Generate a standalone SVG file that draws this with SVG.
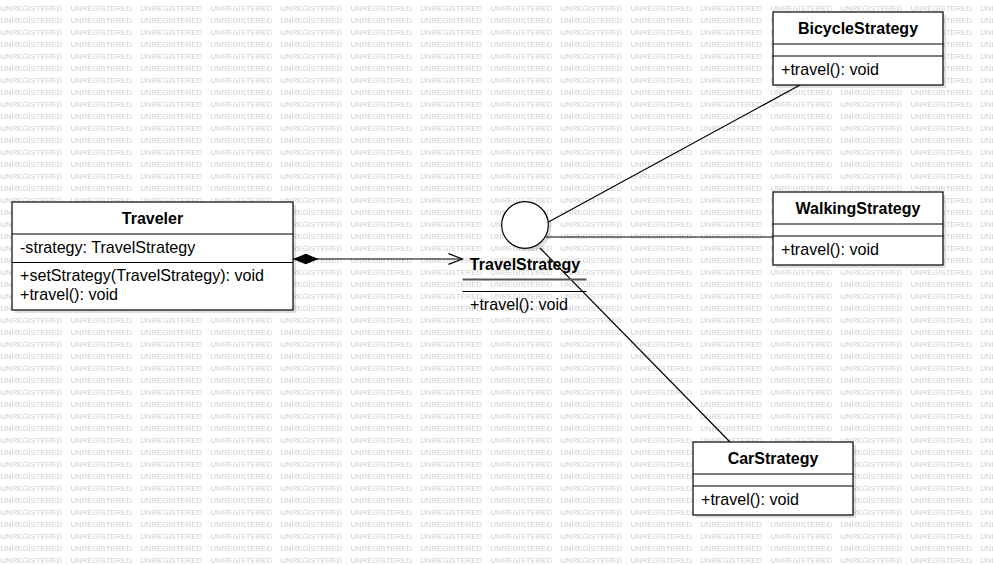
<svg xmlns="http://www.w3.org/2000/svg" width="993" height="565" viewBox="0 0 993 565">
<style>
.wm{font-family:"Liberation Sans",Arial,sans-serif;font-size:8px;fill:#cdcdcd}
.box{fill:#fff;stroke:#000;stroke-width:1.2}
.sh{fill:#000;fill-opacity:0.12}
.div{stroke:#000;stroke-width:1.2}
.t{font-family:"Liberation Sans",Arial,sans-serif;font-size:16px;font-weight:bold;fill:#000;text-anchor:middle}
.m{font-family:"Liberation Sans",Arial,sans-serif;font-size:16.1px;fill:#000}
.ln{stroke:#000;stroke-width:1.2;fill:none}
</style>
<defs>
<pattern id="wmp" x="0" y="0" width="70" height="12" patternUnits="userSpaceOnUse">
<text class="wm" x="0.5" y="11" textLength="61.5" lengthAdjust="spacingAndGlyphs">UNREGISTERED</text>
</pattern>
<marker id="diamond" markerWidth="27" markerHeight="12" refX="0" refY="6" orient="auto" markerUnits="userSpaceOnUse">
<path d="M0,6 L12.8,0.8 L25.6,6 L12.8,11.2 Z" fill="#000"/>
</marker>
<marker id="open" markerWidth="16" markerHeight="12" refX="15" refY="6" orient="auto" markerUnits="userSpaceOnUse">
<path d="M1,0.6 L15,6 L1,11.4" fill="none" stroke="#000" stroke-width="1.2"/>
</marker>
</defs>
<rect width="993" height="565" fill="#fff"/>
<rect width="993" height="565" fill="url(#wmp)"/>
<g id="connectors">
<line class="ln" x1="293" y1="259" x2="462.5" y2="259" marker-start="url(#diamond)" marker-end="url(#open)"/>
<line class="ln" x1="547.5" y1="222.5" x2="800" y2="85"/>
<line class="ln" x1="545.5" y1="237" x2="773" y2="237"/>
<line class="ln" x1="540" y1="248" x2="730" y2="442"/>
</g>
<g id="TravelStrategy">
<circle cx="528" cy="228" r="23.3" class="sh"/>
<circle cx="525" cy="225" r="23.3" class="box"/>
<text class="t" x="525" y="270">TravelStrategy</text>
<line x1="462.5" y1="279.5" x2="586.5" y2="279.5" stroke="#555" stroke-width="2"/>
<line x1="462.5" y1="291.5" x2="586.5" y2="291.5" stroke="#000" stroke-width="1"/>
<text class="m" x="470" y="310">+travel(): void</text>
</g>
<g id="Traveler">
<rect x="15" y="205" width="281" height="108" class="sh"/>
<rect x="12" y="202" width="281" height="108" class="box"/>
<line class="div" x1="12" y1="234" x2="293" y2="234"/>
<line class="div" x1="12" y1="262.5" x2="293" y2="262.5"/>
<text class="t" x="152.5" y="224">Traveler</text>
<text class="m" x="20" y="253">-strategy: TravelStrategy</text>
<text class="m" x="20" y="281">+setStrategy(TravelStrategy): void</text>
<text class="m" x="20" y="300">+travel(): void</text>
</g>
<g id="BicycleStrategy">
<rect x="776" y="15" width="170" height="73" class="sh"/>
<rect x="773" y="12" width="170" height="73" class="box"/>
<line class="div" x1="773" y1="44" x2="943" y2="44"/>
<line class="div" x1="773" y1="56" x2="943" y2="56"/>
<text class="t" x="858" y="34">BicycleStrategy</text>
<text class="m" x="781" y="75">+travel(): void</text>
</g>
<g id="WalkingStrategy">
<rect x="776" y="195" width="170" height="73" class="sh"/>
<rect x="773" y="192" width="170" height="73" class="box"/>
<line class="div" x1="773" y1="224" x2="943" y2="224"/>
<line class="div" x1="773" y1="236" x2="943" y2="236"/>
<text class="t" x="858" y="214">WalkingStrategy</text>
<text class="m" x="781" y="255">+travel(): void</text>
</g>
<g id="CarStrategy">
<rect x="696" y="445" width="160" height="73" class="sh"/>
<rect x="693" y="442" width="160" height="73" class="box"/>
<line class="div" x1="693" y1="474" x2="853" y2="474"/>
<line class="div" x1="693" y1="486" x2="853" y2="486"/>
<text class="t" x="773" y="464">CarStrategy</text>
<text class="m" x="701" y="505">+travel(): void</text>
</g>
</svg>
